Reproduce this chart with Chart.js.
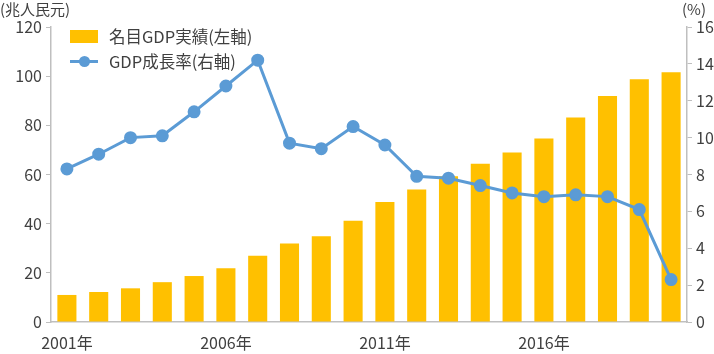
<!DOCTYPE html>
<html>
<head>
<meta charset="utf-8">
<script src="https://cdn.jsdelivr.net/npm/chart.js@4"></script>
<style>
  body { margin: 0; background: #fff; }
  #wrap { position: relative; width: 714px; height: 354px; font-family: "Noto Sans CJK JP", sans-serif; color: #404040; }
  .unit { position: absolute; top: 0; font-size: 15px; line-height: 18px; }
  #legend { position: absolute; left: 70px; top: 24px; font-size: 16.5px; line-height: 25px; }
  #legend div { display: flex; align-items: center; }
  .sw { display: inline-block; width: 28px; height: 13px; background: #FFC000; margin-right: 11px; }
  .ln { position: relative; display: inline-block; width: 28px; height: 3px; background: #5B9BD5; margin-right: 11px; }
  .ln::after { content: ""; position: absolute; left: 9px; top: -4px; width: 11px; height: 11px; border-radius: 50%; background: #5B9BD5; }
</style>
</head>
<body>
<div id="wrap">
  <canvas id="myChart" width="714" height="354"></canvas>
  <div class="unit" style="left:0">(兆人民元)</div>
  <div class="unit" style="left:682px">(%)</div>
  <div id="legend">
    <div><span class="sw"></span>名目GDP実績(左軸)</div>
    <div><span class="ln"></span>GDP成長率(右軸)</div>
  </div>
</div>
<script>
const years = [2001, 2002, 2003, 2004, 2005, 2006, 2007, 2008, 2009, 2010,
  2011, 2012, 2013, 2014, 2015, 2016, 2017, 2018, 2019, 2020];
const nominalGdp = [11.0, 12.2, 13.7, 16.2, 18.7, 21.9, 27.0, 31.9, 34.9, 41.2,
  48.8, 53.9, 59.3, 64.4, 68.9, 74.6, 83.2, 91.9, 98.7, 101.6];
const growthRate = [8.3, 9.1, 10.0, 10.1, 11.4, 12.8, 14.2, 9.7, 9.4, 10.6,
  9.6, 7.9, 7.8, 7.4, 7.0, 6.8, 6.9, 6.8, 6.1, 2.3];
const xLabels = years.map(y => y + "年");

const tickFont = { family: "Noto Sans CJK JP", size: 16 };
const axisColor = "#bfbfbf";

const ctx = document.getElementById("myChart").getContext("2d");
new Chart(ctx, {
  data: {
    labels: xLabels,
    datasets: [
      {
        type: "line",
        label: "GDP成長率(右軸)",
        data: growthRate,
        yAxisID: "y1",
        borderColor: "#5B9BD5",
        backgroundColor: "#5B9BD5",
        borderWidth: 3,
        pointRadius: 5,
        pointHoverRadius: 5,
        tension: 0,
        order: 0,
      },
      {
        type: "bar",
        label: "名目GDP実績(左軸)",
        data: nominalGdp,
        yAxisID: "y",
        backgroundColor: "#FFC000",
        barPercentage: 0.6,
        categoryPercentage: 1,
        order: 1,
      },
    ],
  },
  options: {
    responsive: false,
    animation: false,
    layout: { padding: { top: 27, left: 0, right: 0, bottom: 0 } },
    plugins: { legend: { display: false }, tooltip: { enabled: false } },
    scales: {
      x: {
        grid: { display: false },
        border: { color: axisColor, width: 1.5 },
        ticks: {
          autoSkip: false,
          maxRotation: 0,
          color: "#404040",
          font: tickFont,
          padding: 3,
          callback: (v, i) => (i % 5 === 0 ? xLabels[i] : ""),
        },
        afterFit: s => { s.height = 32; },
      },
      y: {
        position: "left",
        min: 0, max: 120,
        ticks: { stepSize: 20, color: "#404040", font: tickFont, padding: 4 },
        grid: { drawOnChartArea: false, tickLength: 5, color: axisColor },
        border: { color: axisColor, width: 1.5 },
        afterFit: s => { s.width = 51; },
      },
      y1: {
        position: "right",
        min: 0, max: 16,
        ticks: { stepSize: 2, color: "#404040", font: tickFont, padding: 4 },
        grid: { drawOnChartArea: false, tickLength: 5, color: axisColor },
        border: { color: axisColor, width: 1.5 },
        afterFit: s => { s.width = 27; },
      },
    },
  },
});
</script>
</body>
</html>
